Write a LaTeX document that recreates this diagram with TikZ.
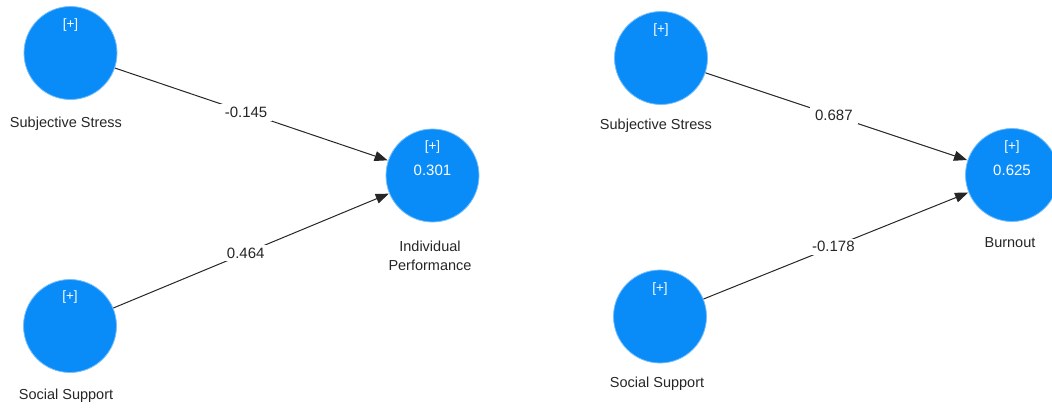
\documentclass[tikz,border=0pt]{standalone}
\usepackage{fontspec}
\setmainfont{Liberation Sans}
\usetikzlibrary{arrows.meta}
\definecolor{lvblue}{RGB}{10,140,248}
\definecolor{lvedge}{RGB}{120,190,250}
\begin{document}
\begin{tikzpicture}[x=1pt,y=-1pt,
  latent/.style={circle,fill=lvblue,draw=lvedge,line width=0.8pt,minimum size=93pt,inner sep=0pt},
  lvname/.style={font=\fontsize{14.5}{19}\selectfont,align=center,text=black!85},
  plus/.style={font=\fontsize{13.5}{15}\selectfont,text=white},
  rsq/.style={font=\fontsize{15}{17}\selectfont,text=white},
  path/.style={draw=black!85,line width=1pt,-{Triangle[length=13pt,width=10pt]},shorten >=0.5pt},
  coef/.style={fill=white,inner xsep=5pt,inner ysep=3pt,font=\fontsize{15}{17}\selectfont,text=black!85}]
\useasboundingbox (0,0) rectangle (1052,408);

% left model
\node[latent] (ss1) at (70.5,53) {};
\node[latent] (sp1) at (70,326) {};
\node[latent] (ip) at (432.5,175.5) {};
\node[plus] at (70.5,25) {[+]};
\node[plus] at (70,297) {[+]};
\node[plus] at (432.5,147) {[+]};
\node[rsq] at (432.5,170) {0.301};
\node[lvname] at (66,124) {Subjective Stress};
\node[lvname] at (66,396) {Social Support};
\node[lvname] at (430,256) {Individual\\Performance};
\draw[path] (ss1) -- node[coef,pos=0.48] {-0.145} (ip);
\draw[path] (sp1) -- node[coef,pos=0.48] {0.464} (ip);

% right model
\node[latent] (ss2) at (661,58) {};
\node[latent] (sp2) at (660,316.5) {};
\node[latent] (bo) at (1012,175) {};
\node[plus] at (661,30) {[+]};
\node[plus] at (660,289) {[+]};
\node[plus] at (1012,147) {[+]};
\node[rsq] at (1012,170) {0.625};
\node[lvname] at (656,126) {Subjective Stress};
\node[lvname] at (657,384) {Social Support};
\node[lvname] at (1010,243) {Burnout};
\draw[path] (ss2) -- node[coef,pos=0.49] {0.687} (bo);
\draw[path] (sp2) -- node[coef,pos=0.49] {-0.178} (bo);
\end{tikzpicture}
\end{document}
